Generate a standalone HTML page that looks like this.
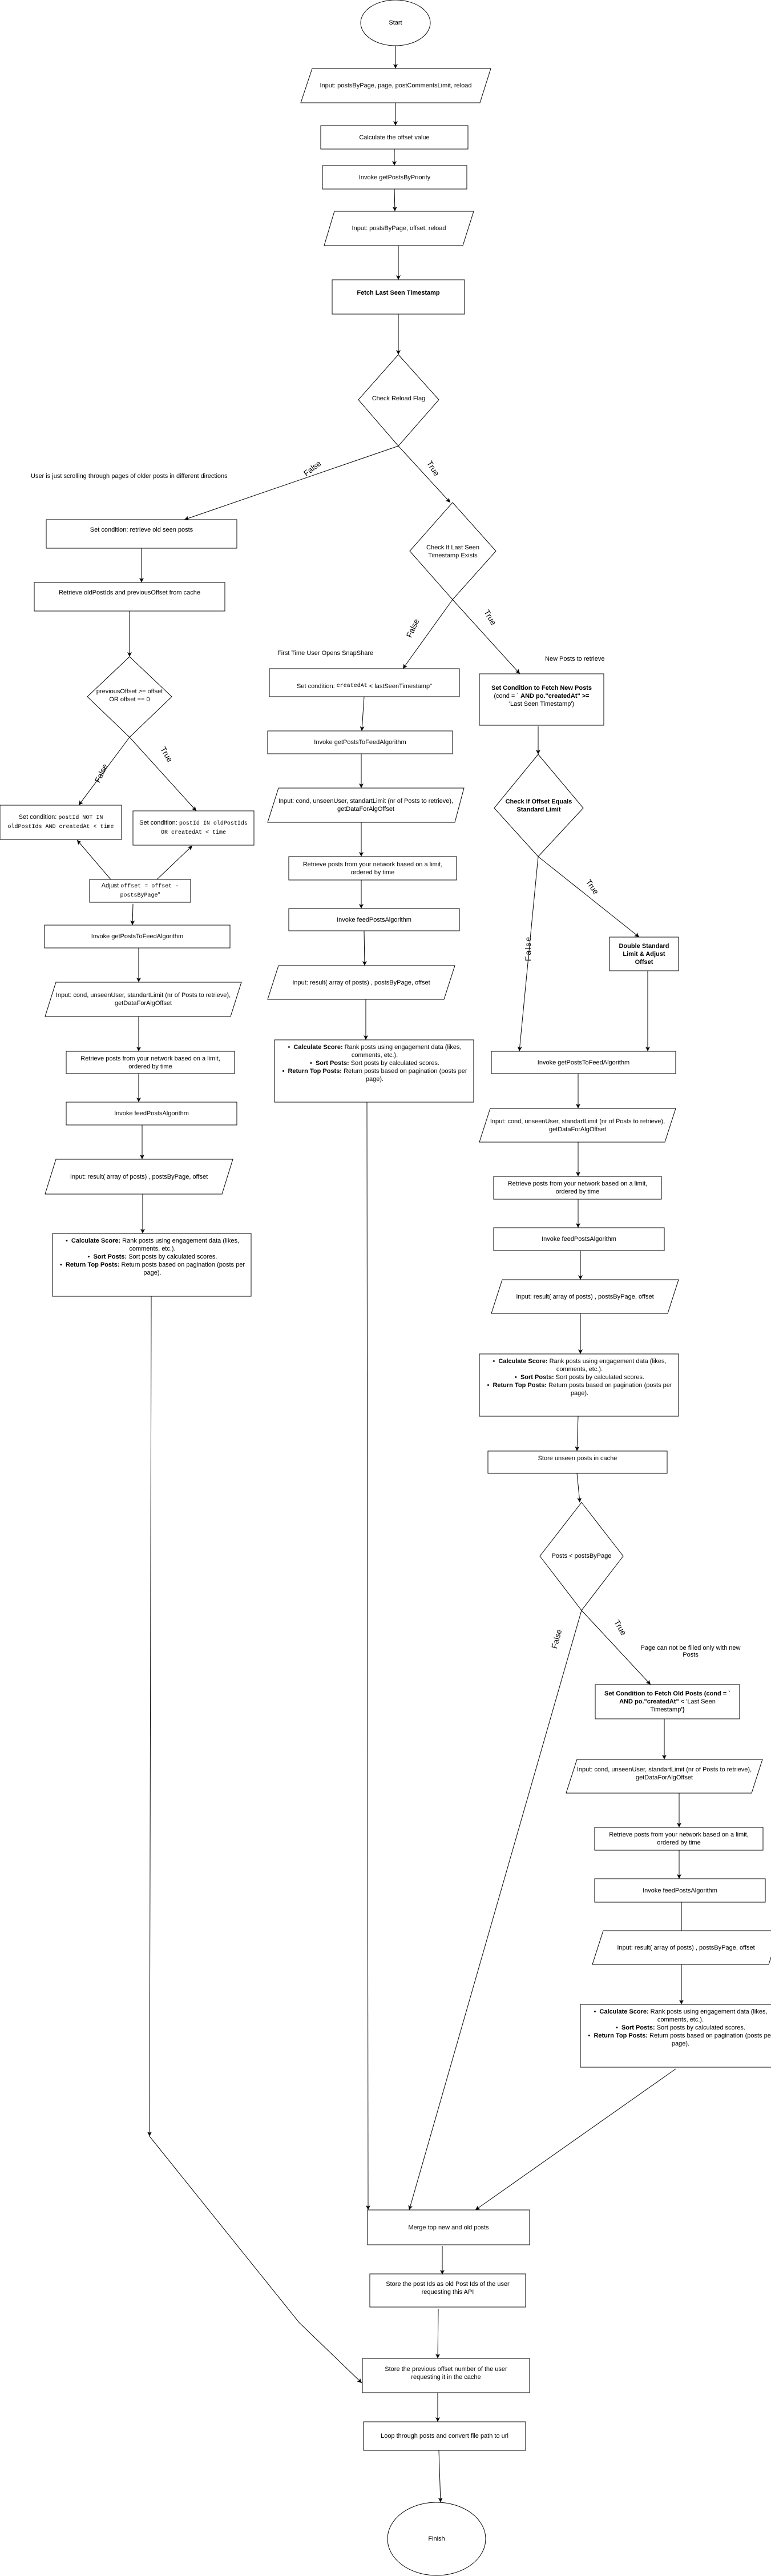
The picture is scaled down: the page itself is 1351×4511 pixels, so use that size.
<!DOCTYPE html>
<html><head><meta charset="utf-8"><style>
body{margin:0;background:#fff;}
#c{position:relative;width:1351px;height:4511px;overflow:hidden;font-family:"Liberation Sans",Arial,sans-serif;font-size:11px;color:#000;}
.t{position:absolute;display:flex;align-items:center;justify-content:center;text-align:center;line-height:14px;box-sizing:border-box;padding:0 4px;}
.b{font-weight:bold;}
.m{font-family:"Liberation Mono",monospace;font-size:10px;}
.l{position:absolute;white-space:nowrap;}
.r{position:absolute;font-size:14px;white-space:nowrap;}
.cs{position:absolute;text-align:center;line-height:14px;box-sizing:border-box;padding:6px 2px 0 4px;}
.cs div{position:relative;}
svg{position:absolute;left:0;top:0;}
</style></head><body><div id="c">
<svg width="1351" height="4511" viewBox="0 0 1351 4511">
<defs><marker id="a" markerWidth="10" markerHeight="10" refX="8" refY="4" orient="auto" markerUnits="userSpaceOnUse"><path d="M0,0 L8,4 L0,8 L2,4 z" fill="#000"/></marker></defs>
<g fill="none" stroke="#000" stroke-width="1">
<ellipse cx="693" cy="40" rx="61" ry="40"/>
<polygon points="547,120 860,120 841,180 527,180"/>
<rect x="562" y="220" width="258" height="41"/>
<rect x="565" y="290" width="253" height="41"/>
<polygon points="586,370 830,370 811,430 568,430"/>
<rect x="582" y="490" width="232" height="60"/>
<polygon points="698,621 769,700 698,781 628,700"/>
<rect x="81" y="910" width="334" height="50"/>
<rect x="60" y="1020" width="334" height="50"/>
<polygon points="227,1150 301,1220 227,1291 153,1220"/>
<polygon points="793,880 869,965 793,1050 718,965"/>
<rect x="472" y="1171" width="333" height="49"/>
<rect x="840" y="1180" width="218" height="90"/>
<rect x="469" y="1280" width="324" height="40"/>
<polygon points="488,1380 813,1380 797,1440 469,1440"/>
<polygon points="943,1321 1022,1415 943,1500 866,1415"/>
<rect x="0" y="1410" width="213" height="60"/>
<rect x="233" y="1420" width="212" height="60"/>
<rect x="157" y="1540" width="177" height="40"/>
<rect x="78" y="1620" width="325" height="40"/>
<polygon points="98,1720 423,1720 404,1780 79,1780"/>
<rect x="116" y="1841" width="295" height="39"/>
<rect x="116" y="1930" width="299" height="40"/>
<polygon points="98,2030 408,2030 389,2091 79,2091"/>
<rect x="92" y="2160" width="348" height="110"/>
<rect x="506" y="1500" width="294" height="41"/>
<rect x="506" y="1591" width="299" height="39"/>
<polygon points="488,1691 797,1691 778,1750 469,1750"/>
<rect x="481" y="1821" width="349" height="109"/>
<rect x="1068" y="1641" width="121" height="59"/>
<rect x="861" y="1841" width="323" height="39"/>
<polygon points="859,1941 1184,1941 1165,2000 840,2000"/>
<rect x="865" y="2060" width="294" height="40"/>
<rect x="865" y="2150" width="299" height="40"/>
<polygon points="880,2241 1189,2241 1170,2300 861,2300"/>
<rect x="840" y="2371" width="349" height="109"/>
<rect x="855" y="2541" width="314" height="39"/>
<polygon points="1019,2631 1092,2725 1019,2820 946,2725"/>
<rect x="1043" y="2950" width="253" height="60"/>
<polygon points="1011,3081 1336,3081 1317,3140 992,3140"/>
<rect x="1042" y="3200" width="295" height="40"/>
<rect x="1042" y="3290" width="299" height="41"/>
<polygon points="1057,3381 1366,3381 1347,3440 1038,3440"/>
<rect x="1017" y="3510" width="349" height="110"/>
<rect x="644" y="3870" width="284" height="61"/>
<rect x="648" y="3982" width="273" height="58"/>
<rect x="635" y="4130" width="293" height="60"/>
<rect x="637" y="4241" width="284" height="50"/>
<ellipse cx="765" cy="4446" rx="86" ry="64"/>
</g>
<g fill="none" stroke="#000" stroke-width="1" marker-end="url(#a)">
<line x1="693" y1="80" x2="693" y2="120"/>
<line x1="693" y1="180" x2="693" y2="220"/>
<line x1="691" y1="261" x2="691" y2="290"/>
<line x1="691" y1="331" x2="692" y2="370"/>
<line x1="698" y1="430" x2="698" y2="490"/>
<line x1="698" y1="550" x2="698" y2="621"/>
<line x1="698" y1="781" x2="323" y2="910"/>
<line x1="698" y1="781" x2="789" y2="880"/>
<line x1="248" y1="960" x2="248" y2="1020"/>
<line x1="227" y1="1070" x2="227" y2="1150"/>
<line x1="793" y1="1050" x2="706" y2="1171"/>
<line x1="793" y1="1050" x2="911" y2="1180"/>
<line x1="227" y1="1291" x2="138" y2="1410"/>
<line x1="227" y1="1291" x2="344" y2="1420"/>
<line x1="194" y1="1540" x2="135" y2="1471"/>
<line x1="275" y1="1540" x2="337" y2="1481"/>
<line x1="233" y1="1583" x2="232" y2="1620"/>
<line x1="243" y1="1660" x2="243" y2="1720"/>
<line x1="243" y1="1780" x2="243" y2="1841"/>
<line x1="243" y1="1880" x2="243" y2="1930"/>
<line x1="249" y1="1970" x2="249" y2="2030"/>
<line x1="250" y1="2091" x2="250" y2="2160"/>
<line x1="638" y1="1220" x2="634" y2="1280"/>
<line x1="633" y1="1320" x2="633" y2="1380"/>
<line x1="633" y1="1440" x2="633" y2="1500"/>
<line x1="633" y1="1541" x2="633" y2="1591"/>
<line x1="638" y1="1630" x2="639" y2="1691"/>
<line x1="641" y1="1750" x2="641" y2="1821"/>
<line x1="943" y1="1272" x2="943" y2="1321"/>
<line x1="943" y1="1500" x2="910" y2="1841"/>
<line x1="943" y1="1500" x2="1120" y2="1641"/>
<line x1="1135" y1="1700" x2="1135" y2="1841"/>
<line x1="1013" y1="1880" x2="1013" y2="1941"/>
<line x1="1013" y1="2000" x2="1013" y2="2060"/>
<line x1="1013" y1="2100" x2="1013" y2="2150"/>
<line x1="1017" y1="2190" x2="1017" y2="2241"/>
<line x1="1017" y1="2300" x2="1017" y2="2371"/>
<line x1="1013" y1="2480" x2="1011" y2="2541"/>
<line x1="1011" y1="2580" x2="1016" y2="2631"/>
<line x1="1019" y1="2820" x2="1140" y2="2950"/>
<line x1="1164" y1="3010" x2="1164" y2="3081"/>
<line x1="1190" y1="3140" x2="1190" y2="3200"/>
<line x1="1190" y1="3240" x2="1190" y2="3290"/>
<line x1="1194" y1="3440" x2="1194" y2="3510"/>
<line x1="1019" y1="2820" x2="717" y2="3870"/>
<line x1="1184" y1="3623" x2="833" y2="3870"/>
<line x1="643" y1="1930" x2="645" y2="3870"/>
<line x1="265" y1="2270" x2="262" y2="3741"/>
<polyline points="262,3741 524,4067 634,4173"/>
<line x1="775" y1="3933" x2="775" y2="3983"/>
<line x1="768" y1="4043" x2="767" y2="4130"/>
<line x1="767" y1="4190" x2="767" y2="4241"/>
<line x1="769" y1="4291" x2="772" y2="4382"/>
</g>
<line x1="1194" y1="3331" x2="1194" y2="3381" stroke="#000"/>
</svg>

<div class="t" style="left:632px;top:0;width:122px;height:80px">Start</div>
<div class="t" style="left:527px;top:120px;width:333px;height:60px">Input: postsByPage, page, postCommentsLimit, reload</div>
<div class="t" style="left:562px;top:220px;width:258px;height:41px">Calculate the offset value</div>
<div class="t" style="left:565px;top:290px;width:253px;height:41px">Invoke getPostsByPriority</div>
<div class="t" style="left:568px;top:370px;width:262px;height:60px">Input: postsByPage, offset, reload</div>
<div class="t b" style="left:582px;top:505px;width:232px;height:16px">Fetch Last Seen Timestamp</div>
<div class="t" style="left:628px;top:690px;width:141px;height:16px">Check Reload Flag</div>
<div class="l" style="left:54px;top:828px">User is just scrolling through pages of older posts in different directions</div>
<div class="r" style="left:530px;top:812px;transform:rotate(-38deg)">False</div>
<div class="r" style="left:745px;top:812px;transform:rotate(58deg)">True</div>
<div class="t" style="left:81px;top:920px;width:334px;height:16px">Set condition: retrieve old seen posts</div>
<div class="t" style="left:60px;top:1030px;width:334px;height:16px">Retrieve oldPostIds and previousOffset from cache</div>
<div class="t" style="left:153px;top:1202px;width:148px;height:32px;padding:0">previousOffset &gt;= offset<br>OR offset == 0</div>
<div class="t" style="left:718px;top:950px;width:151px;height:32px">Check If Last Seen<br>Timestamp Exists</div>
<div class="r" style="left:706px;top:1092px;transform:rotate(-65deg)">False</div>
<div class="r" style="left:845px;top:1073px;transform:rotate(60deg)">True</div>
<div class="l" style="left:486px;top:1138px">First Time User Opens SnapShare</div>
<div class="l" style="left:955px;top:1148px">New Posts to retrieve</div>
<div class="t" style="left:472px;top:1190px;width:333px;height:24px">Set condition:&nbsp;<span class="m">createdAt</span>&nbsp;&lt; lastSeenTimestamp"</div>
<div class="t b" style="left:840px;top:1180px;width:218px;height:90px;padding-bottom:12px"><span>Set Condition to Fetch New Posts<br><span style="font-weight:normal">(cond = ` <b>AND po."createdAt" &gt;=</b><br>'Last Seen Timestamp')</span></span></div>
<div class="t" style="left:469px;top:1280px;width:324px;height:40px">Invoke getPostsToFeedAlgorithm</div>
<div class="t" style="left:469px;top:1380px;width:344px;height:60px;padding:0">Input: cond, unseenUser, standartLimit (nr of Posts to retrieve),<br>getDataForAlgOffset</div>
<div class="t b" style="left:866px;top:1395px;width:156px;height:32px">Check If Offset Equals<br>Standard Limit</div>
<div class="r" style="left:160px;top:1346px;transform:rotate(-65deg)">False</div>
<div class="r" style="left:278px;top:1313px;transform:rotate(60deg)">True</div>
<div class="t" style="left:0;top:1410px;width:213px;height:60px;padding:0"><span>Set condition: <span class="m">postId NOT IN</span><br><span class="m">oldPostIds AND createdAt &lt; time</span></span></div>
<div class="t" style="left:233px;top:1420px;width:212px;height:60px;padding:0"><span>Set condition: <span class="m">postId IN oldPostIds</span><br><span class="m">OR createdAt &lt; time</span></span></div>
<div class="t" style="left:157px;top:1540px;width:177px;height:40px"><span>Adjust <span class="m">offset = offset -</span><br><span class="m">postsByPage</span>"</span></div>
<div class="t" style="left:78px;top:1620px;width:325px;height:40px">Invoke getPostsToFeedAlgorithm</div>
<div class="t" style="left:79px;top:1720px;width:344px;height:60px;padding:0">Input: cond, unseenUser, standartLimit (nr of Posts to retrieve),<br>getDataForAlgOffset</div>
<div class="t" style="left:116px;top:1841px;width:295px;height:39px">Retrieve posts from your network based on a limit,<br>ordered by time</div>
<div class="t" style="left:116px;top:1930px;width:299px;height:40px">Invoke feedPostsAlgorithm</div>
<div class="t" style="left:79px;top:2030px;width:329px;height:61px">Input: result( array of posts) , postsByPage, offset</div>
<div class="cs" style="left:92px;top:2160px;width:348px;height:110px"><div>•&nbsp; <b>Calculate Score:</b> Rank posts using engagement data (likes, comments, etc.).</div><div>• &nbsp;<b>Sort Posts:</b> Sort posts by calculated scores.</div><div>•&nbsp; <b>Return Top Posts:</b> Return posts based on pagination (posts per page).</div></div>
<div class="t" style="left:506px;top:1500px;width:294px;height:41px">Retrieve posts from your network based on a limit,<br>ordered by time</div>
<div class="t" style="left:506px;top:1591px;width:299px;height:39px">Invoke feedPostsAlgorithm</div>
<div class="t" style="left:469px;top:1691px;width:328px;height:59px">Input: result( array of posts) , postsByPage, offset</div>
<div class="cs" style="left:481px;top:1821px;width:349px;height:109px"><div>•&nbsp; <b>Calculate Score:</b> Rank posts using engagement data (likes, comments, etc.).</div><div>• &nbsp;<b>Sort Posts:</b> Sort posts by calculated scores.</div><div>•&nbsp; <b>Return Top Posts:</b> Return posts based on pagination (posts per page).</div></div>
<div class="r" style="left:903px;top:1653px;transform:rotate(-90deg);letter-spacing:2px">False</div>
<div class="r" style="left:1024px;top:1545px;transform:rotate(55deg)">True</div>
<div class="t b" style="left:1068px;top:1641px;width:121px;height:59px">Double Standard<br>Limit &amp; Adjust<br>Offset</div>
<div class="t" style="left:861px;top:1841px;width:323px;height:39px">Invoke getPostsToFeedAlgorithm</div>
<div class="t" style="left:840px;top:1941px;width:344px;height:59px;padding:0">Input: cond, unseenUser, standartLimit (nr of Posts to retrieve),<br>getDataForAlgOffset</div>
<div class="t" style="left:865px;top:2060px;width:294px;height:40px">Retrieve posts from your network based on a limit,<br>ordered by time</div>
<div class="t" style="left:865px;top:2150px;width:299px;height:40px">Invoke feedPostsAlgorithm</div>
<div class="t" style="left:861px;top:2241px;width:328px;height:59px">Input: result( array of posts) , postsByPage, offset</div>
<div class="cs" style="left:840px;top:2371px;width:349px;height:109px"><div>•&nbsp; <b>Calculate Score:</b> Rank posts using engagement data (likes, comments, etc.).</div><div>• &nbsp;<b>Sort Posts:</b> Sort posts by calculated scores.</div><div>•&nbsp; <b>Return Top Posts:</b> Return posts based on pagination (posts per page).</div></div>
<div class="t" style="left:855px;top:2546px;width:314px;height:16px">Store unseen posts in cache</div>
<div class="t" style="left:946px;top:2717px;width:146px;height:16px">Posts &lt; postsByPage</div>
<div class="r" style="left:1073px;top:2842px;transform:rotate(60deg)">True</div>
<div class="r" style="left:958px;top:2862px;transform:rotate(-75deg)">False</div>
<div class="l" style="left:1110px;top:2880px;text-align:center;white-space:normal;width:200px">Page can not be filled only with new Posts</div>
<div class="t" style="left:1043px;top:2950px;width:253px;height:60px"><span><b>Set Condition to Fetch Old Posts (cond = `<br>AND po."createdAt" &lt;</b> 'Last Seen<br>Timestamp<b>')</b></span></div>
<div class="t" style="left:992px;top:3081px;width:344px;height:50px;padding:0">Input: cond, unseenUser, standartLimit (nr of Posts to retrieve),<br>getDataForAlgOffset</div>
<div class="t" style="left:1042px;top:3200px;width:295px;height:40px">Retrieve posts from your network based on a limit,<br>ordered by time</div>
<div class="t" style="left:1042px;top:3290px;width:299px;height:41px">Invoke feedPostsAlgorithm</div>
<div class="t" style="left:1038px;top:3381px;width:328px;height:59px">Input: result( array of posts) , postsByPage, offset</div>
<div class="cs" style="left:1017px;top:3510px;width:349px;height:110px"><div>•&nbsp; <b>Calculate Score:</b> Rank posts using engagement data (likes, comments, etc.).</div><div>• &nbsp;<b>Sort Posts:</b> Sort posts by calculated scores.</div><div>•&nbsp; <b>Return Top Posts:</b> Return posts based on pagination (posts per page).</div></div>
<div class="t" style="left:644px;top:3870px;width:284px;height:61px">Merge top new and old posts</div>
<div class="t" style="left:648px;top:3982px;width:273px;height:50px">Store the post Ids as old Post Ids of the user<br>requesting this API</div>
<div class="t" style="left:635px;top:4130px;width:293px;height:52px">Store the previous offset number of the user<br>requesting it in the cache</div>
<div class="t" style="left:637px;top:4241px;width:284px;height:50px">Loop through posts and convert file path to url</div>
<div class="t" style="left:679px;top:4382px;width:172px;height:128px">Finish</div>
</div></body></html>
